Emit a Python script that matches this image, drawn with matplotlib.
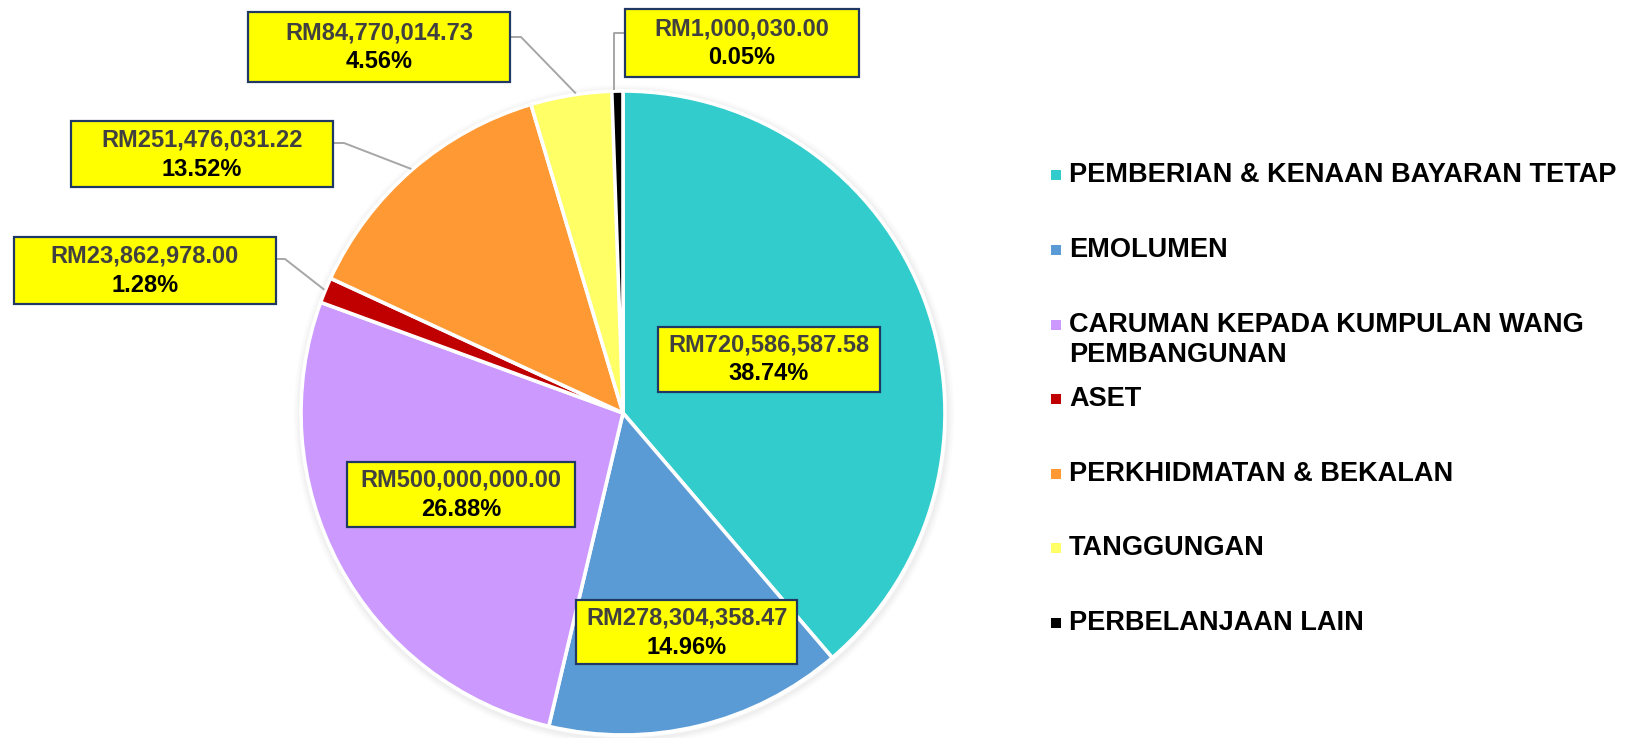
import matplotlib
matplotlib.use("Agg")
import matplotlib.pyplot as plt
from matplotlib.patches import Rectangle, Circle
import numpy as np

plt.rcParams['font.family'] = ['Liberation Sans', 'DejaVu Sans']

categories = ["PEMBERIAN & KENAAN BAYARAN TETAP", "EMOLUMEN",
              "CARUMAN KEPADA KUMPULAN WANG\nPEMBANGUNAN", "ASET",
              "PERKHIDMATAN & BEKALAN", "TANGGUNGAN", "PERBELANJAAN LAIN"]
values = [720586587.58, 278304358.47, 500000000.00, 23862978.00,
          251476031.22, 84770014.73, 1000030.00]
colors = ["#33CCCC", "#5B9BD5", "#CC99FF", "#C00000", "#FF9933", "#FFFF66", "#000000"]

W, H = 1627, 738
fig = plt.figure(figsize=(W / 100, H / 100), dpi=100)
ax = fig.add_axes([0, 0, 1, 1])

cx, cy, R = 623, 413, 322

# soft shadow
for i in range(8):
    ax.add_patch(Circle((cx + 1, cy + 2), R + 1 + i, facecolor="none",
                        edgecolor="#000000", alpha=0.035 * (8 - i) / 8, lw=1.5, zorder=0))

wedges, _ = ax.pie(values, colors=colors, startangle=-90, counterclock=True,
                   center=(cx, cy), radius=R,
                   wedgeprops=dict(edgecolor="white", linewidth=2.6))
ax.set_xlim(0, W)
ax.set_ylim(H, 0)
ax.set_aspect('auto')
ax.axis('off')

# the reference renders the tiny last slice with a minimum visible width
MIN_SLICE_DEG = 2.0
last = wedges[-1]
if last.theta2 - last.theta1 < MIN_SLICE_DEG:
    last.set_theta1(last.theta2 - MIN_SLICE_DEG)
last.set_zorder(3)

total = sum(values)
# label box: center x, center y, width, height (pixels)
boxes = [(769, 359, 222, 65), (687, 632, 221, 64), (461, 494, 228, 65),
         (145, 270, 262, 67), (202, 154, 262, 66), (379, 47, 262, 70),
         (742, 43, 234, 68)]
# leader lines (index: (start x, start y, elbow x))
leaders = {3: (276, 259, 285), 4: (333, 143, 344), 5: (510, 37, 521), 6: (625, 33, 614)}

for i, (w, v) in enumerate(zip(wedges, values)):
    bx, by, bw, bh = boxes[i]
    ax.add_patch(Rectangle((bx - bw / 2, by - bh / 2), bw, bh, facecolor="#FFFF00",
                           edgecolor="#1F3864", lw=1.6, zorder=5))
    ax.text(bx, by - 14, f"RM{v:,.2f}", ha="center", va="center", fontsize=17,
            fontweight="bold", color="#404040", zorder=6)
    ax.text(bx, by + 15, f"{v / total * 100:.2f}%", ha="center", va="center", fontsize=17,
            fontweight="bold", color="#000000", zorder=6)
    if i in leaders:
        sx, sy, ex = leaders[i]
        mid = np.deg2rad((w.theta1 + w.theta2) / 2)
        px = cx + (R + 1) * np.cos(mid)
        py = cy + (R + 1) * np.sin(mid)
        if i == 6:
            px, py = ex, cy - R - 1
        ax.plot([sx, ex, px], [sy, sy, py], color="#A6A6A6", lw=1.4, zorder=4,
                solid_capstyle="butt")

# legend
leg_y = [176, 251, 326, 400, 475, 549, 624]
for c, lab, y in zip(colors, categories, leg_y):
    ax.add_patch(Rectangle((1051, y - 6), 10, 10, facecolor=c, edgecolor="none"))
    ax.text(1069, y - 14, lab, ha="left", va="top", fontsize=19.5, fontweight="bold",
            color="#000000", linespacing=1.2)

fig.savefig("out.png", dpi=100, facecolor="white")
